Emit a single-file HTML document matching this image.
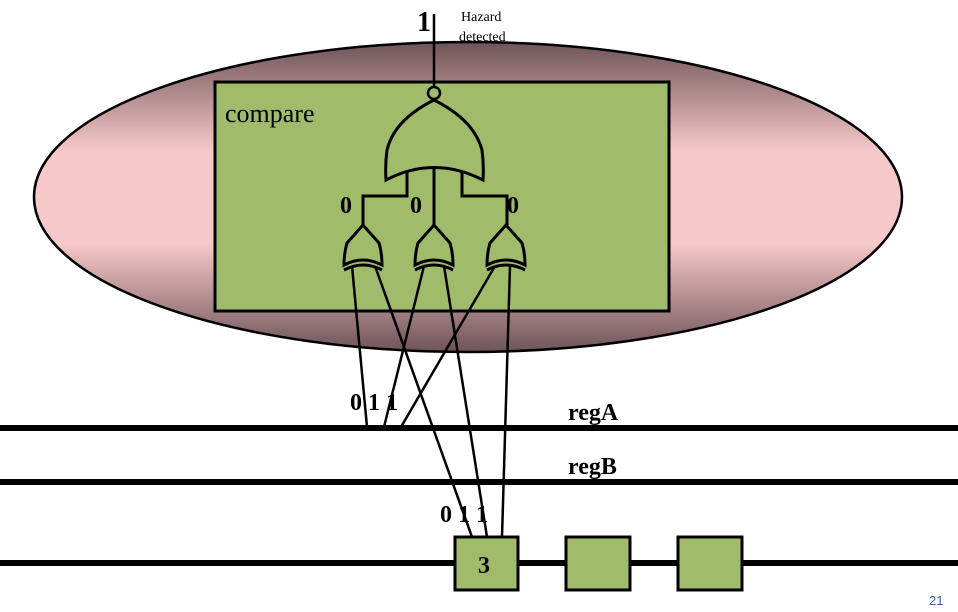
<!DOCTYPE html>
<html><head><style>body{margin:0;background:#fff}svg{display:block}</style></head><body>
<svg width="958" height="612" viewBox="0 0 958 612" xmlns="http://www.w3.org/2000/svg">
<defs>
<linearGradient id="g" x1="0" y1="0" x2="0" y2="1">
<stop offset="0" stop-color="#6e5458"/><stop offset="0.35" stop-color="#f7c8c9"/><stop offset="0.65" stop-color="#f7c8c9"/><stop offset="1" stop-color="#6e5458"/>
</linearGradient>
<g id="xor"><path d="M0,0 L16,18 Q19,28 19,40 Q0,30 -19,40 Q-19,28 -16,18 Z" fill="#a0bc6a" stroke="#000" stroke-width="3"/><path d="M-19,45 Q0,35 19,45" fill="none" stroke="#000" stroke-width="3"/></g>
</defs>
<ellipse cx="468" cy="197" rx="434" ry="155" fill="url(#g)" stroke="#000" stroke-width="2.5"/>
<rect x="215" y="82" width="454" height="229" fill="#a0bc6a" stroke="#000" stroke-width="3"/>
<line x1="434" y1="14" x2="434" y2="87" stroke="#000" stroke-width="2.5"/>
<circle cx="434" cy="93" r="6" fill="#a0bc6a" stroke="#000" stroke-width="2.5"/>
<path d="M434,100 Q474,120 482,150 Q484,165 483,180 Q434,155 386,180 Q385,165 387,150 Q394,120 434,100 Z" fill="#a0bc6a" stroke="#000" stroke-width="3"/>
<path d="M407,172 V196 H363 V225 M434,168 V225 M462,172 V196 H507 V225" fill="none" stroke="#000" stroke-width="3"/>
<use href="#xor" x="363" y="225"/><use href="#xor" x="434" y="225"/><use href="#xor" x="506" y="225"/>
<g stroke="#000" stroke-width="2.5">
<line x1="352" y1="266" x2="367" y2="427"/>
<line x1="375" y1="266" x2="472" y2="537"/>
<line x1="424" y1="266" x2="384" y2="427"/>
<line x1="444" y1="266" x2="487" y2="537"/>
<line x1="495" y1="266" x2="401" y2="427"/>
<line x1="510" y1="266" x2="502" y2="537"/>
</g>
<g fill="#000">
<rect x="0" y="425" width="958" height="6"/>
<rect x="0" y="479" width="958" height="6"/>
<rect x="0" y="560" width="958" height="6"/>
</g>
<g fill="#a0bc6a" stroke="#000" stroke-width="3">
<rect x="455" y="537" width="63" height="53"/>
<rect x="566" y="537" width="64" height="53"/>
<rect x="678" y="537" width="64" height="53"/>
</g>
<g font-family="Liberation Serif, serif" font-weight="bold" fill="#000">
<text x="225" y="122" font-size="26" font-weight="normal">compare</text>
<text x="417" y="31" font-size="28">1</text>
<text x="461" y="21" font-size="14" font-weight="normal">Hazard</text>
<text x="459" y="41" font-size="14" font-weight="normal">detected</text>
<text x="340" y="213" font-size="24">0</text>
<text x="410" y="213" font-size="24">0</text>
<text x="507" y="213" font-size="24">0</text>
<text x="350" y="410" font-size="24">0 1 1</text>
<text x="568" y="420" font-size="24">regA</text>
<text x="568" y="474" font-size="24">regB</text>
<text x="440" y="522" font-size="24">0 1 1</text>
<text x="478" y="573" font-size="24">3</text>
</g>
<text x="929" y="605" font-family="Liberation Sans, sans-serif" font-size="13" fill="#2f5f8f">21</text>
</svg>
</body></html>
